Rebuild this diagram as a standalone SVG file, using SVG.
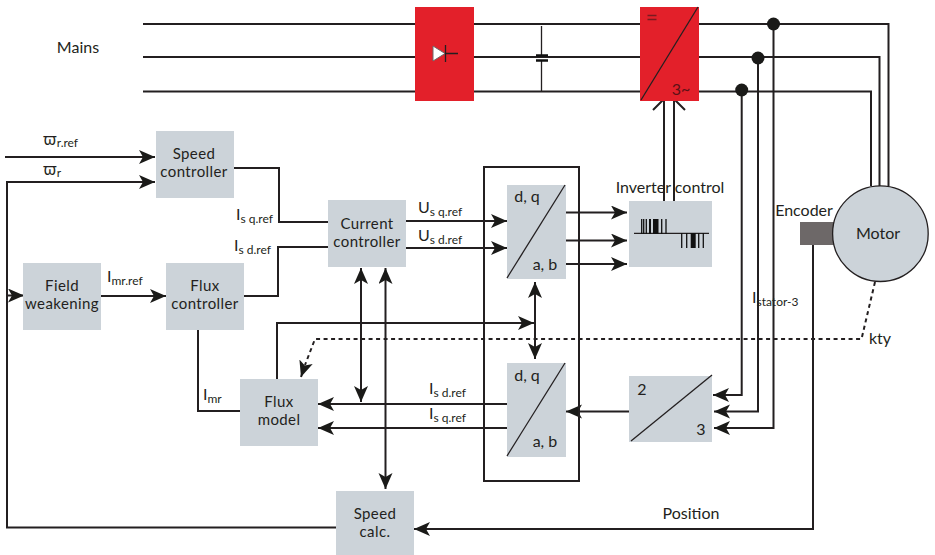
<svg xmlns="http://www.w3.org/2000/svg" width="935" height="555" viewBox="0 0 935 555">
<style>
.n{fill:#ccd3d9}
.r{fill:#e3202a}
.l{fill:none;stroke:#231f20;stroke-width:2}
.t{fill:none;stroke:#231f20;stroke-width:1.3}
.d{fill:none;stroke:#231f20;stroke-width:2;stroke-dasharray:4 3.5}
.p{fill:none;stroke:#111;stroke-width:2.6}
.b{stroke:#111;stroke-width:1.3;fill:none}
text{font-family:"Lato","Open Sans","Liberation Sans",sans-serif;font-size:16px;fill:#231f20;text-anchor:middle}
text.m{font-size:15px;letter-spacing:.4px}
.s{font-size:12px}
.st{text-anchor:start}
</style>
<defs>
<marker id="a" markerUnits="userSpaceOnUse" markerWidth="17" markerHeight="15" refX="16" refY="7" orient="auto-start-reverse"><path d="M0 0L16 7L0 14L4 7Z" fill="#1a1a18"/></marker>
</defs>
<g id="connectors">
<path class="l" d="M143 24H888.500V186M143 57H879.500V186M143 91.500H871V186"/>
<path class="t" d="M541.500 26V55M541.500 60V91"/>
<path class="p" d="M536 55.500H548M536 60.500H548"/>
<path class="l" d="M773.500 24V428H714" marker-end="url(#a)"/>
<path class="l" d="M758 58V411.500H714" marker-end="url(#a)"/>
<path class="l" d="M741.700 90V395H713" marker-end="url(#a)"/>
<path class="l" d="M664 201V99M653 110L664 99"/>
<path class="l" d="M674 201V99M685 110L674 99"/>
<path class="l" d="M5 157H155" marker-end="url(#a)"/>
<path class="l" d="M336 527.500H7V182H155" marker-end="url(#a)"/>
<path class="l" d="M7 295.500H24" marker-end="url(#a)"/>
<path class="l" d="M101 296H166" marker-end="url(#a)"/>
<path class="l" d="M234 168H279V222H328"/>
<path class="l" d="M244 296H278V247H328"/>
<path class="l" d="M406 221H507" marker-end="url(#a)"/>
<path class="l" d="M406 248H507" marker-end="url(#a)"/>
<path class="l" d="M566 212.500H627" marker-end="url(#a)"/>
<path class="l" d="M566 240.500H627" marker-end="url(#a)"/>
<path class="l" d="M566 264H627" marker-end="url(#a)"/>
<path class="l" d="M361 268V402" marker-start="url(#a)" marker-end="url(#a)"/>
<path class="l" d="M385.500 268V489" marker-start="url(#a)" marker-end="url(#a)"/>
<path class="l" d="M535 282V359" marker-start="url(#a)" marker-end="url(#a)"/>
<path class="l" d="M277 379V323H534" marker-end="url(#a)"/>
<path class="d" d="M875 282L861.500 339H315L305 365"/>
<path class="l" d="M304 368L301 377" marker-end="url(#a)"/>
<path class="l" d="M507 404H318" marker-end="url(#a)"/>
<path class="l" d="M507 428H318" marker-end="url(#a)"/>
<path class="l" d="M629 411.500H566" marker-end="url(#a)"/>
<path class="l" d="M198 330V411H240"/>
<path class="l" d="M813 245V529H414" marker-end="url(#a)"/>
<rect class="l" x="484" y="167" width="95" height="314"/>
</g>
<g id="rectifier"><rect class="r" x="415" y="7" width="59" height="94"/><path d="M433 46L445 53.500L433 61Z" fill="#fff" stroke="#6d6a6a"/><path class="t" d="M445.500 45V62M445 53.500H458"/></g>
<g id="inverter"><rect class="r" x="640" y="7" width="59" height="94"/><path class="t" d="M641 100L698 7"/><path d="M647.500 15.500h9M647.500 19.500h9" stroke="#7a1a20" stroke-width="1.500"/><text x="681" y="95" style="fill:#5c1116">3~</text></g>
<g id="dot1"><circle cx="773.500" cy="24" r="6.500" fill="#1a1a18"/></g>
<g id="dot2"><circle cx="758" cy="58" r="6.500" fill="#1a1a18"/></g>
<g id="dot3"><circle cx="741.700" cy="90" r="6.500" fill="#1a1a18"/></g>
<g id="speed-controller"><rect class="n" x="156" y="131" width="78" height="67"/><text class="m" x="194" y="158.500">Speed</text><text class="m" x="194" y="176.700">controller</text></g>
<g id="field-weakening"><rect class="n" x="23" y="263" width="78" height="67"/><text class="m" x="62" y="290.500">Field</text><text class="m" x="62" y="308.700">weakening</text></g>
<g id="flux-controller"><rect class="n" x="166" y="263" width="78" height="67"/><text class="m" x="205" y="290.500">Flux</text><text class="m" x="205" y="308.700">controller</text></g>
<g id="current-controller"><rect class="n" x="328" y="200" width="78" height="67"/><text class="m" x="367" y="228.500">Current</text><text class="m" x="367" y="246.700">controller</text></g>
<g id="dq-ab-top"><rect class="n" x="507" y="185" width="59" height="94"/><path class="t" d="M507 278L565 185"/><text x="527" y="202">d, q</text><text x="545" y="270">a, b</text></g>
<g id="dq-ab-bottom"><rect class="n" x="507" y="363" width="59" height="94"/><path class="t" d="M507 456L565 363"/><text x="527" y="381">d, q</text><text x="545" y="447">a, b</text></g>
<g id="inverter-control"><rect class="n" x="629" y="201" width="83" height="66"/><path class="t" d="M634 233.300H709"/>
<path class="b" d="M641.700 219v15M643.700 219v15M646.300 219v15M661.700 219v15M666 219v15M681.700 233v15M686.700 233v15M698.700 233v15M703.300 233v15"/>
<path d="M649 219h2v15h-2zM653 219h5.500v15h-5.500zM690.700 233h5v15h-5z" fill="#111"/></g>
<g id="two-three"><rect class="n" x="629" y="376" width="83" height="66"/><path class="t" d="M631 441L712 375"/><text x="642" y="395">2</text><text x="701" y="435">3</text></g>
<g id="flux-model"><rect class="n" x="240" y="379" width="78" height="67"/><text class="m" x="279" y="406.500">Flux</text><text class="m" x="279" y="424.700">model</text></g>
<g id="speed-calc"><rect class="n" x="336" y="491" width="78" height="64"/><text class="m" x="375" y="518.500">Speed</text><text class="m" x="375" y="536.700">calc.</text></g>
<g id="encoder"><rect x="800" y="222" width="34" height="23" fill="#6d6868"/><text x="804" y="216">Encoder</text></g>
<g id="motor"><circle cx="880.400" cy="233.700" r="47.800" fill="#ccd3d9" stroke="#231f20" stroke-width="1.300"/><text x="878" y="239">Motor</text></g>
<g id="labels">
<text x="78" y="53">Mains</text>
<text x="670" y="193">Inverter control</text>
<text x="43" y="145" class="st"><tspan font-family="Noto Sans">ϖ</tspan><tspan dy="2" class="s">r.ref</tspan></text>
<text x="43" y="175" class="st"><tspan font-family="Noto Sans">ϖ</tspan><tspan dy="2" class="s">r</tspan></text>
<text x="107" y="282" class="st">I<tspan dy="3" class="s">mr.ref</tspan></text>
<text x="236" y="220" class="st">I<tspan dy="3" class="s">s q.ref</tspan></text>
<text x="234" y="251" class="st">I<tspan dy="3" class="s">s d.ref</tspan></text>
<text x="418" y="213" class="st">U<tspan dy="3" class="s">s q.ref</tspan></text>
<text x="418" y="241" class="st">U<tspan dy="3" class="s">s d.ref</tspan></text>
<text x="429" y="394" class="st">I<tspan dy="3" class="s">s d.ref</tspan></text>
<text x="429" y="419" class="st">I<tspan dy="3" class="s">s q.ref</tspan></text>
<text x="203" y="400" class="st">I<tspan dy="3" class="s">mr</tspan></text>
<text x="752" y="303" class="st">I<tspan dy="3" class="s">stator-3</tspan></text>
<text x="880" y="344">kty</text>
<text x="691" y="519">Position</text>
</g>
</svg>
